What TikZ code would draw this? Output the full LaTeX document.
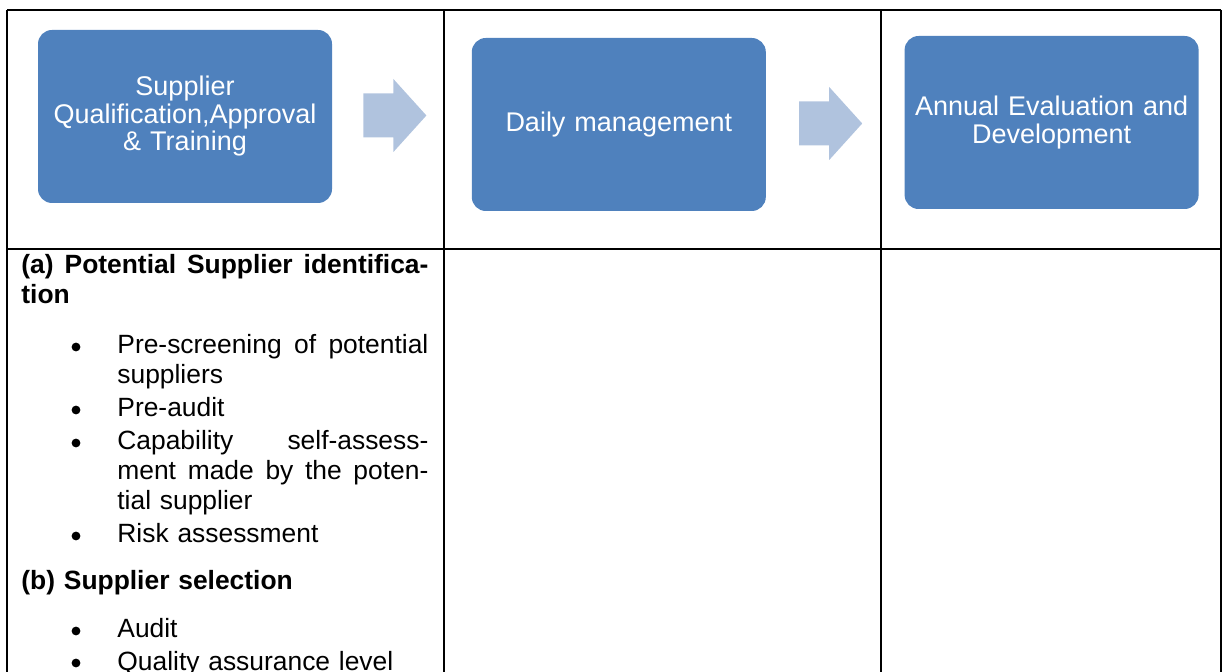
\documentclass[tikz,border=0pt]{standalone}
\usepackage{fontspec}
\setmainfont{Liberation Sans}
\usepackage{xcolor}
\definecolor{stageBlue}{HTML}{4F81BD}
\definecolor{arrowTint}{HTML}{B0C3DE}
\usepackage{tikz}
\usetikzlibrary{positioning,calc}
\tikzset{%
  stageBox/.style={%
    rectangle,
    rounded corners=7pt,
    fill=stageBlue,
    text=white,
    minimum width=147pt,
    minimum height=86.5pt,
    text width=140pt,
    inner sep=0pt,
    align=center,
    font=\fontsize{13.5}{13.75}\selectfont
  },
  stageArrow/.style={%
    fill=arrowTint,
    draw=none
  },
  procArrow/.pic={%
    \fill[stageArrow] (0,-22) -- (30,-22) -- (30,-36.5) -- (63,0)
      -- (30,36.5) -- (30,22) -- (0,22) -- cycle;
  },
  gridLine/.style={%
    line width=1pt,
    black
  },
  headText/.style={%
    anchor=base west,
    text width=203.5pt,
    inner sep=0pt,
    align=left,
    font=\bfseries\fontsize{13.2}{15}\selectfont
  },
  itemText/.style={%
    anchor=base west,
    text width=155.5pt,
    inner sep=0pt,
    align=left,
    font=\fontsize{13.2}{15}\selectfont
  }
}
% justified line: spaces stretched to the column width
\newcommand{\fullline}[2][155.5pt]{\makebox[#1][s]{\spaceskip=0pt\xspaceskip=0pt\relax#2}}

\begin{document}
\begin{tikzpicture}[x=0.5pt,y=-0.5pt]
  \useasboundingbox (0,0) rectangle (1225,672);

  % table rules
  \draw[gridLine] (7,10) -- (1221,10);
  \draw[gridLine] (7,249) -- (1221,249);
  \draw[gridLine] (7,10) -- (7,674);
  \draw[gridLine] (444,10) -- (444,674);
  \draw[gridLine] (881,10) -- (881,674);
  \draw[gridLine] (1221,10) -- (1221,674);

  % process stages
  \node[stageBox] (qual) at (185,116.5) {Supplier\\Qualification,Approval\\\& Training};
  \node[stageBox, right=69.5pt of qual, yshift=-4pt] (daily) {Daily management};
  \node[stageBox, right=69pt of daily, yshift=1pt] (annual) {Annual Evaluation and\\Development};

  \pic at ($(qual.east)+(31,-1)$) {procArrow};
  \pic at ($(daily.east)+(33,-1)$) {procArrow};

  % first column
  \node[headText] (headA) at (21,274) {\fullline[203.5pt]{(a) Potential Supplier identifica-}\\tion};
  \node[itemText] (itemA1) at (117,354) {\fullline{Pre-screening of potential}\\suppliers};
  \node[itemText] (itemA2) at (117,417) {Pre-audit};
  \node[itemText] (itemA3) at (117,450) {\fullline{Capability self-assess-}\\\fullline{ment made by the poten-}\\tial supplier};
  \node[itemText] (itemA4) at (117,543) {Risk assessment};
  \node[headText] (headB) at (21,590) {(b) Supplier selection};
  \node[itemText] (itemB1) at (117,638) {Audit};
  \node[itemText] (itemB2) at (117,670) {Quality assurance level};

  \fill (76,347) circle (2.2pt);
  \fill (76,410) circle (2.2pt);
  \fill (76,443) circle (2.2pt);
  \fill (76,536) circle (2.2pt);
  \fill (76,631) circle (2.2pt);
  \fill (76,663) circle (2.2pt);
\end{tikzpicture}
\end{document}
